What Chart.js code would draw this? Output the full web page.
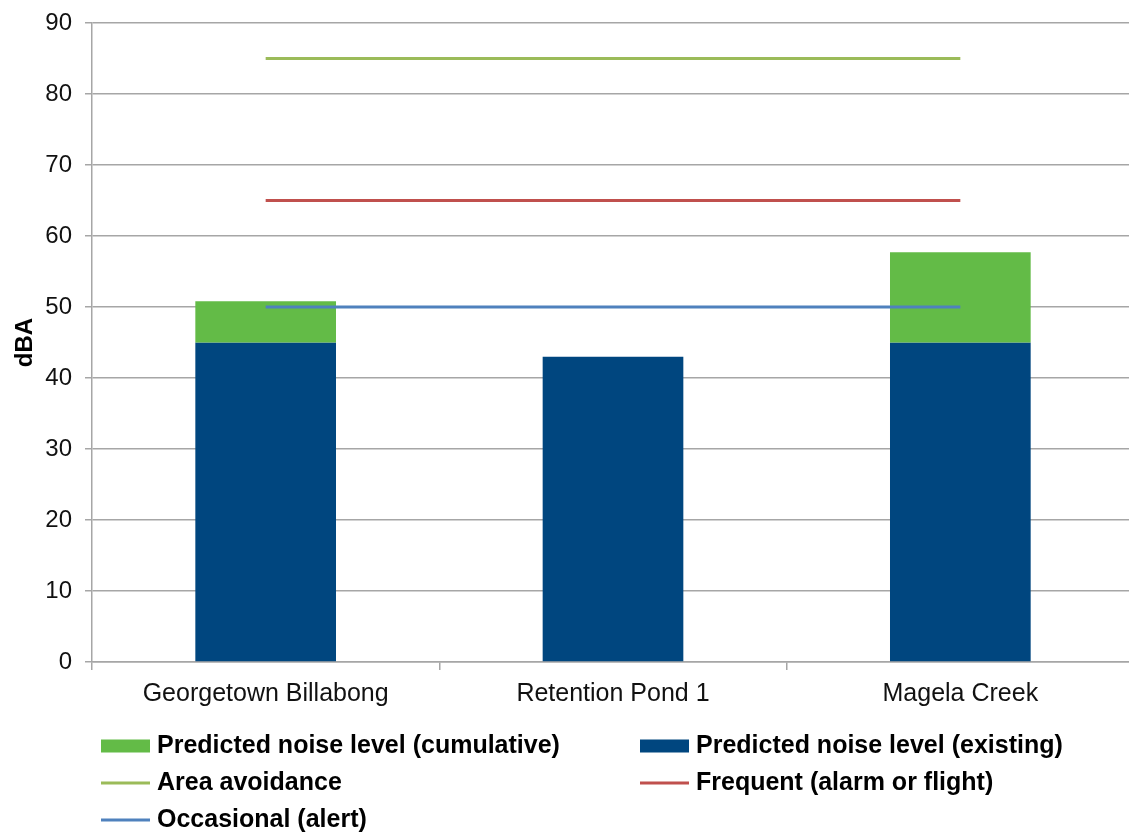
<!DOCTYPE html>
<html>
<head>
<meta charset="utf-8">
<script src="https://cdn.jsdelivr.net/npm/chart.js@4"></script>
<style>
  html, body { margin: 0; padding: 0; background: #fff; overflow: hidden; }
  #wrap { width: 1142px; height: 833px; }
</style>
</head>
<body>
<div id="wrap"><canvas id="c" width="1142" height="833"></canvas></div>
<script>
// Noise monitoring sites
const sites = ['Georgetown Billabong', 'Retention Pond 1', 'Magela Creek'];

// Predicted noise levels, dBA
const existingLevel = [45, 43, 45];
const cumulativeLevel = [50.8, null, 57.7];

// Bird response thresholds, dBA
const areaAvoidance = [85, 85, 85];
const frequentAlarm = [65, 65, 65];
const occasionalAlert = [50, 50, 50];

// Y axis range
const yMin = 0, yMax = 90, yStep = 10;

const FONT = '"Liberation Sans", Arial, sans-serif';
const GRID = '#a6a6a6';

// cumulative segment sits on top of the existing level
const cumulativeBars = cumulativeLevel.map((v, i) => v == null ? null : [existingLevel[i], v]);

// two-column legend drawn under the axis
const legendPlugin = {
  id: 'columnLegend',
  afterDraw(chart) {
    const ctx = chart.ctx;
    const ds = chart.data.datasets;
    const order = [1, 0, 2, 3, 4];
    const cols = [101, 640];
    const rows = [746, 783, 820];
    ctx.save();
    ctx.font = 'bold 25px ' + FONT;
    ctx.textBaseline = 'middle';
    ctx.textAlign = 'left';
    order.forEach((di, k) => {
      const d = ds[di];
      const x = cols[k % 2];
      const y = rows[Math.floor(k / 2)];
      if (d.type === 'line') {
        ctx.strokeStyle = d.borderColor;
        ctx.lineWidth = 3;
        ctx.beginPath();
        ctx.moveTo(x, y);
        ctx.lineTo(x + 49, y);
        ctx.stroke();
      } else {
        ctx.fillStyle = d.backgroundColor;
        ctx.fillRect(x, y - 6.5, 49, 13);
      }
      ctx.fillStyle = '#000';
      ctx.fillText(d.label, x + 56, y);
    });
    ctx.restore();
  }
};

new Chart(document.getElementById('c'), {
  type: 'bar',
  data: {
    labels: sites,
    datasets: [
      {
        label: 'Predicted noise level (existing)',
        data: existingLevel,
        backgroundColor: '#00467f',
        categoryPercentage: 1,
        barPercentage: 0.405,
        order: 2
      },
      {
        label: 'Predicted noise level (cumulative)',
        data: cumulativeBars,
        backgroundColor: '#63bb47',
        categoryPercentage: 1,
        barPercentage: 0.405,
        order: 1
      },
      {
        type: 'line',
        label: 'Area avoidance',
        data: areaAvoidance,
        borderColor: '#9bbb59',
        backgroundColor: '#9bbb59',
        borderWidth: 3,
        pointRadius: 0,
        order: 0
      },
      {
        type: 'line',
        label: 'Frequent (alarm or flight)',
        data: frequentAlarm,
        borderColor: '#c0504d',
        backgroundColor: '#c0504d',
        borderWidth: 3,
        pointRadius: 0,
        order: 0
      },
      {
        type: 'line',
        label: 'Occasional (alert)',
        data: occasionalAlert,
        borderColor: '#4f81bd',
        backgroundColor: '#4f81bd',
        borderWidth: 3,
        pointRadius: 0,
        order: 0
      }
    ]
  },
  options: {
    responsive: false,
    animation: false,
    layout: { padding: { left: 0, top: 23, right: 8, bottom: 111 } },
    plugins: {
      legend: { display: false },
      tooltip: { enabled: false }
    },
    scales: {
      x: {
        stacked: true,
        offset: true,
        border: { display: true, color: GRID, width: 1.5 },
        grid: { offset: true, drawOnChartArea: false, drawTicks: true, tickLength: 8, color: GRID, lineWidth: 1.5 },
        ticks: { color: '#111', font: { family: FONT, size: 25 }, padding: 9, maxRotation: 0 },
        afterFit(scale) { scale.height = 60; }
      },
      y: {
        stacked: false,
        min: yMin,
        max: yMax,
        border: { display: true, color: GRID, width: 1.5 },
        grid: { color: GRID, lineWidth: 1.5, drawTicks: true, tickLength: 7 },
        ticks: { stepSize: yStep, color: '#111', font: { family: FONT, size: 24 }, padding: 13 },
        title: { display: true, text: 'dBA', color: '#000', font: { family: FONT, size: 24, weight: 'bold' }, padding: { top: 11, bottom: 0 } },
        afterFit(scale) {
          scale.width = 92;
          scale.paddingTop = 0;
          scale.paddingBottom = 0;
        }
      }
    }
  },
  plugins: [legendPlugin]
});
</script>
</body>
</html>
